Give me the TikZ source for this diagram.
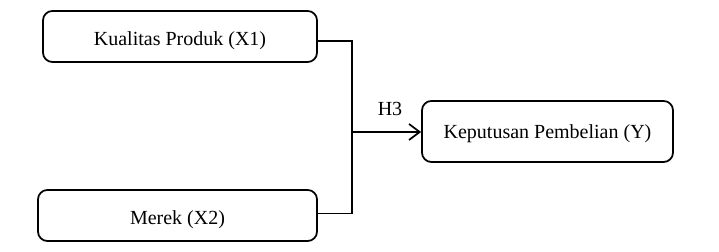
\documentclass[tikz,border=0pt]{standalone}
\usepackage{fontspec}
\setmainfont{Liberation Serif}
\usetikzlibrary{arrows.meta, positioning, calc}

\begin{document}
\begin{tikzpicture}[
        x=0.75pt, y=-0.75pt,
        font=\fontsize{15}{18}\selectfont,
        var/.style={rectangle, draw=black, line width=1.3pt, rounded corners=7pt, minimum height=38.25pt, text height=14pt, text depth=0pt, align=center},
        line/.style={draw, line width=1.3pt},
        arrowline/.style={draw, line width=1.3pt, -{Straight Barb[length=8pt, width=12pt]}}
    ]
        \useasboundingbox (0,0) rectangle (719,252);

        % Independent variables
        \node[var, minimum width=205.5pt] (kualitas) at (180,36.5) {Kualitas Produk (X1)};
        \node[var, minimum width=209.25pt] (merek) at (177.5,215.5) {Merek (X2)};

        % Dependent variable
        \node[var, minimum width=188.25pt, minimum height=45.75pt, text height=10pt] (keputusan) at (547.5,131.5) {Keputusan Pembelian (Y)};

        % Connectors
        \coordinate (junction) at (352,132);
        \draw[line] ([yshift=-3.4pt]kualitas.east) -| (junction) |- ([yshift=1.5pt]merek.east);
        \draw[arrowline] (junction) -- node[above=8pt, pos=0.55] (h3) {H3} (junction -| keputusan.west);

    \end{tikzpicture}
\end{document}
